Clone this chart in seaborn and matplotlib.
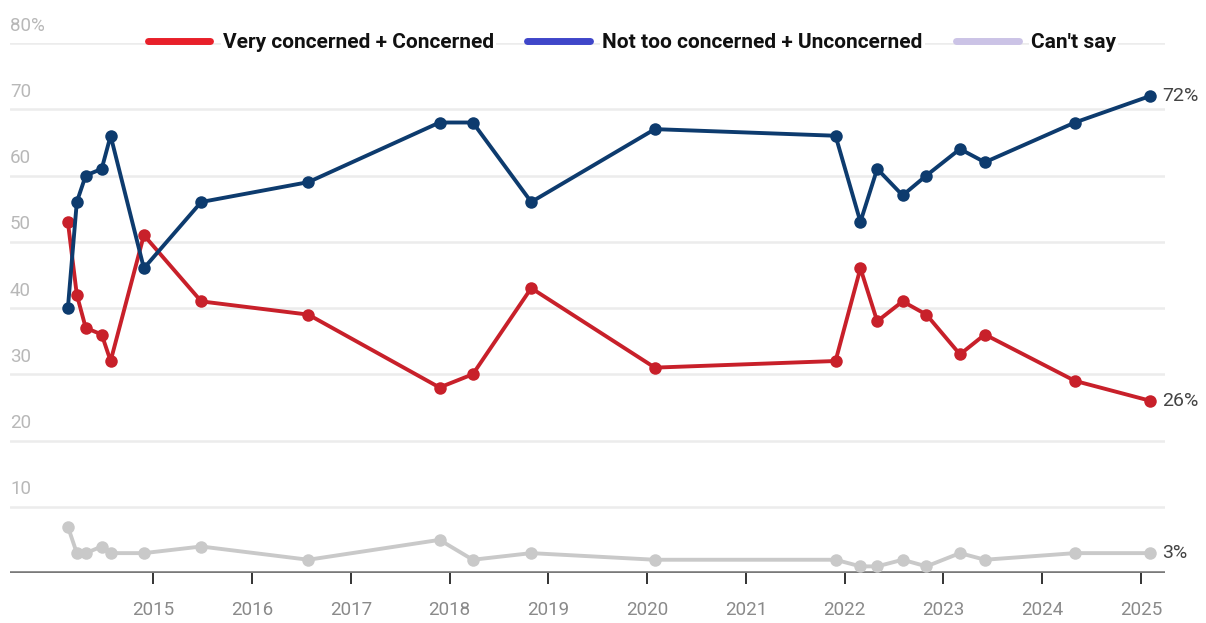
import matplotlib
matplotlib.use("Agg")
import matplotlib.pyplot as plt
from matplotlib.lines import Line2D
import seaborn as sns
import pandas as pd

# ---- data ----
dates = ["2014-02-20", "2014-03-25", "2014-04-27", "2014-06-25", "2014-07-28",
         "2014-11-28", "2015-06-28", "2016-07-28", "2017-11-25", "2018-03-28",
         "2018-10-30", "2020-01-30", "2021-11-28", "2022-02-28", "2022-05-01",
         "2022-08-03", "2022-10-30", "2023-03-03", "2023-06-03", "2024-05-01",
         "2025-02-03"]
concerned = [53, 42, 37, 36, 32, 51, 41, 39, 28, 30, 43, 31, 32, 46, 38, 41, 39, 33, 36, 29, 26]
not_concerned = [40, 56, 60, 61, 66, 46, 56, 59, 68, 68, 56, 67, 66, 53, 61, 57, 60, 64, 62, 68, 72]
cant_say = [7, 3, 3, 4, 3, 3, 4, 2, 5, 2, 3, 2, 2, 1, 1, 2, 1, 3, 2, 3, 3]
series_names = ["Very concerned + Concerned", "Not too concerned + Unconcerned", "Can't say"]
y_ticks = [10, 20, 30, 40, 50, 60, 70, 80]
y_tick_labels = ["10", "20", "30", "40", "50", "60", "70", "80%"]
year_ticks = list(range(2015, 2026))

line_colors = {"Very concerned + Concerned": "#c8202a",
               "Not too concerned + Unconcerned": "#0d3b6e",
               "Can't say": "#c9c9c9"}
legend_colors = ["#e8202a", "#3f46c9", "#cbc3e6"]

df = pd.DataFrame({
    "date": pd.to_datetime(dates * 3),
    "value": concerned + not_concerned + cant_say,
    "series": [series_names[0]] * len(dates) + [series_names[1]] * len(dates) + [series_names[2]] * len(dates),
})

sns.set_theme(style="white")
plt.rcParams["font.family"] = ["Roboto", "DejaVu Sans"]

fig = plt.figure(figsize=(12.06, 6.23), dpi=100)
ax = fig.add_axes([10 / 1206, 1 - 573 / 623, (1165 - 10) / 1206, (573 - 43) / 623])

# gridlines
for v in y_ticks:
    ax.axhline(v, color="#ececec", lw=1.8, zorder=0)

# draw lines (gray first so others sit on top)
for name in [series_names[2], series_names[0], series_names[1]]:
    sub = df[df["series"] == name]
    sns.lineplot(data=sub, x="date", y="value", ax=ax, color=line_colors[name],
                 linewidth=2.8, marker="o", markersize=9, markeredgewidth=0,
                 legend=False, zorder=3, clip_on=False)

ax.set_xlim(pd.Timestamp("2013-07-21"), pd.Timestamp("2025-03-30"))
ax.set_ylim(0, 80)

# baseline
ax.axhline(0, color="#7a7a7a", lw=2.6, zorder=2)

for s in ax.spines.values():
    s.set_visible(False)

ax.set_yticks([])
ax.set_xticks([pd.Timestamp(f"{y}-01-01") for y in year_ticks])
ax.set_xticklabels([str(y) for y in year_ticks], fontsize=13.5, color="#8a8a8a")
ax.tick_params(axis="x", length=8, width=1.4, color="#333333", direction="out", pad=12, bottom=True)
ax.set_xlabel("")
ax.set_ylabel("")

# y labels above gridlines
for v, lab in zip(y_ticks, y_tick_labels):
    ax.annotate(lab, xy=(0, v), xycoords=("axes fraction", "data"),
                xytext=(0, 6), textcoords="offset points",
                ha="left", va="bottom", fontsize=13.5, color="#b8b8b8")

# end labels
last = pd.Timestamp(dates[-1])
for vals in [not_concerned, concerned, cant_say]:
    ax.annotate(f"{vals[-1]}%", xy=(last, vals[-1]), xytext=(9, 0),
                textcoords="offset points", ha="left", va="center",
                fontsize=14, color="#444444", annotation_clip=False)

# legend
handles = [Line2D([0], [0], color=c, lw=5, solid_capstyle="round") for c in legend_colors]
leg = fig.legend(handles, series_names, loc="center", bbox_to_anchor=(632 / 1206, 1 - 43 / 623),
                 ncol=3, frameon=False, handlelength=3.0, handletextpad=0.6,
                 columnspacing=1.6, prop={"size": 15, "weight": "bold"})
for t in leg.get_texts():
    t.set_color("#111111")
    t.set_bbox(dict(facecolor="white", edgecolor="none", pad=1.5))

fig.savefig("out.png", dpi=100, facecolor="white")
